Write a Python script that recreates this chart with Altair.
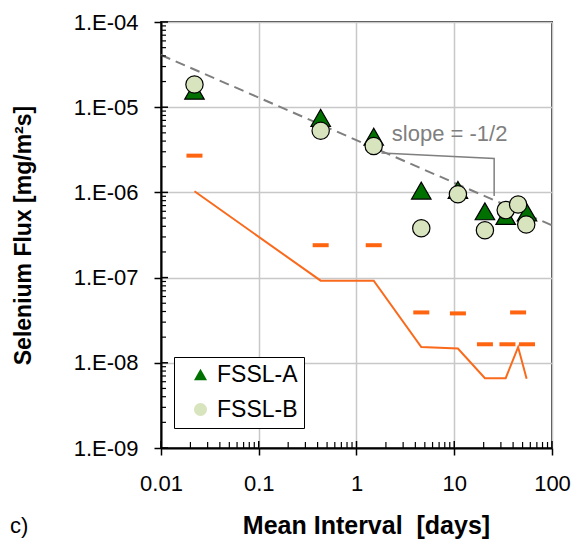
import altair as alt
import pandas as pd

FONT = "Liberation Sans"

# ---- data ----
series_names = ["FSSL-A", "FSSL-B"]
fssl_a_x = [0.022, 0.43, 1.5, 4.6, 10.9, 20.6, 33.6, 55.5]
fssl_a_y = [1.56e-5, 7.5e-6, 4.5e-6, 1.05e-6, 1.07e-6, 6.0e-7, 5.3e-7, 5.8e-7]
fssl_b_x = [0.022, 0.43, 1.5, 4.6, 10.9, 20.6, 33.6, 45, 54.5]
fssl_b_y = [1.85e-5, 5.3e-6, 3.5e-6, 3.8e-7, 9.5e-7, 3.6e-7, 6.2e-7, 7.2e-7, 4.2e-7]

dash_x = [0.022, 0.43, 1.5, 4.6, 10.9, 20.6, 35, 45, 55.5]
dash_y = [2.7e-6, 2.4e-7, 2.4e-7, 3.9e-8, 3.8e-8, 1.65e-8, 1.65e-8, 3.9e-8, 1.65e-8]

line_x = [0.022, 0.43, 1.5, 4.6, 10.9, 20.6, 33.6, 45, 55]
line_y = [1.03e-6, 9.2e-8, 9.2e-8, 1.53e-8, 1.47e-8, 6.6e-9, 6.6e-9, 1.53e-8, 6.5e-9]

slope_x = [0.01, 100]
slope_y = [4.1e-5, 4.1e-7]
slope_label = "slope = -1/2"
slope_label_x = [2.3]
slope_label_y = [4.8e-6]
bracket_x = [1.8, 25.6, 25.6]
bracket_y = [2.9e-6, 2.5e-6, 9.1e-7]

x_major = [0.01, 0.1, 1, 10, 100]
y_major = [1e-9, 1e-8, 1e-7, 1e-6, 1e-5, 1e-4]
minor_mult = [2, 3, 4, 5, 6, 7, 8, 9]
x_minor = [m * d for d in x_major[:-1] for m in minor_mult]
y_minor = [m * d for d in y_major[:-1] for m in minor_mult]

W, H = 391, 426
X_TITLE = "Mean Interval\u00a0\u00a0[days]"
Y_TITLE = "Selenium Flux [mg/m\u00b2s]"

pts_a = pd.DataFrame({"x": fssl_a_x, "y": fssl_a_y, "series": series_names[0]})
pts_b = pd.DataFrame({"x": fssl_b_x, "y": fssl_b_y, "series": series_names[1]})
dashes = pd.DataFrame({"x": dash_x, "y": dash_y})
orange = pd.DataFrame({"x": line_x, "y": line_y, "o": range(len(line_x))})
slope = pd.DataFrame({"x": slope_x, "y": slope_y})
bracket = pd.DataFrame({"x": bracket_x, "y": bracket_y, "o": range(len(bracket_x))})
label = pd.DataFrame({"x": slope_label_x, "y": slope_label_y, "t": [slope_label]})

xs = alt.Scale(type="log", domain=[0.01, 100])
ys = alt.Scale(type="log", domain=[1e-9, 1e-4])

x_axis = alt.Axis(
    values=x_major, format="~g", labelFont=FONT, labelFontSize=22, labelColor="black",
    labelPadding=18, labelFlush=False, labelOverlap=False,
    tickSize=7, tickColor="black", tickWidth=1.5,
    domainColor="black", domainWidth=2,
    grid=True, gridColor="#c8c8c8", gridWidth=1.5,
    titleFont=FONT, titleFontSize=25,
    titleFontWeight="bold", titleColor="black", titleX=205, titleY=85,
    titleBaseline="alphabetic",
)
y_axis = alt.Axis(
    values=y_major, labelExpr="'1.E-0' + format(-log(datum.value) / LN10, '.0f')",
    labelFont=FONT, labelFontSize=22, labelColor="black", labelPadding=16,
    labelOverlap=False,
    tickSize=7, tickColor="black", tickWidth=1.5,
    domainColor="black", domainWidth=2,
    grid=True, gridColor="#c8c8c8", gridWidth=1.5,
    titleFont=FONT, titleFontSize=23,
    titleFontWeight="bold", titleColor="black", titleX=-126, titleY=H / 2,
    titleAngle=-90,
)


def X(field):
    return alt.X(field, scale=xs, title=X_TITLE)


def Y(field):
    return alt.Y(field, scale=ys, title=Y_TITLE)


# base layer carries the axes
slope_layer = alt.Chart(slope).mark_line(
    color="#7f7f7f", strokeWidth=2, strokeDash=[10, 6]
).encode(
    x=alt.X("x:Q", scale=xs, axis=x_axis, title=X_TITLE),
    y=alt.Y("y:Q", scale=ys, axis=y_axis, title=Y_TITLE),
)

orange_line = alt.Chart(orange).mark_line(color="#fa6a1c", strokeWidth=2).encode(
    x=X("x:Q"), y=Y("y:Q"), order="o:Q"
)

dash_layer = alt.Chart(dashes).mark_tick(
    orient="horizontal", color="#ff6410", size=16, thickness=4, opacity=1
).encode(x=X("x:Q"), y=Y("y:Q"))

bracket_layer = alt.Chart(bracket).mark_line(color="#7f7f7f", strokeWidth=1.5).encode(
    x=X("x:Q"), y=Y("y:Q"), order="o:Q"
)

label_layer = alt.Chart(label).mark_text(
    align="left", baseline="middle", font=FONT, fontSize=22, color="#7f7f7f"
).encode(x=X("x:Q"), y=Y("y:Q"), text="t:N")

legend = alt.Legend(
    orient="none", legendX=13, legendY=335, title=None,
    labelFont=FONT, labelFontSize=23, labelColor="black",
    labelExpr="datum.label + '\u00a0\u00a0'",
    symbolSize=170, symbolStrokeColor="black", symbolStrokeWidth=1.2,
    strokeColor="black", fillColor="white", padding=6, rowPadding=11,
    symbolOffset=9, labelOffset=5,
)

shape_enc = alt.Shape("series:N", scale=alt.Scale(domain=series_names, range=["triangle-up", "circle"]), legend=legend)
fill_enc = alt.Fill("series:N", scale=alt.Scale(domain=series_names, range=["#007000", "#d7e4bd"]), legend=legend)

points_a = alt.Chart(pts_a).mark_point(
    filled=True, stroke="black", strokeWidth=1.2, opacity=1, size=380
).encode(x=X("x:Q"), y=Y("y:Q"), shape=shape_enc, fill=fill_enc)
points_b = alt.Chart(pts_b).mark_point(
    filled=True, stroke="black", strokeWidth=1.2, opacity=1, size=300
).encode(x=X("x:Q"), y=Y("y:Q"), shape=shape_enc, fill=fill_enc)

xmaj = pd.DataFrame({"v": x_major})
xmin = pd.DataFrame({"v": x_minor})
ymaj = pd.DataFrame({"v": y_major})
ymin = pd.DataFrame({"v": y_minor})

x_major_in = alt.Chart(xmaj).mark_rule(color="black", strokeWidth=1.5).encode(
    x=X("v:Q"), y=alt.value(H), y2=alt.value(H - 7))
x_minor_in = alt.Chart(xmin).mark_rule(color="black", strokeWidth=1.2).encode(
    x=X("v:Q"), y=alt.value(H), y2=alt.value(H - 6))
y_major_in = alt.Chart(ymaj).mark_rule(color="black", strokeWidth=1.5).encode(
    y=Y("v:Q"), x=alt.value(0), x2=alt.value(7))
y_minor_in = alt.Chart(ymin).mark_rule(color="black", strokeWidth=1.2).encode(
    y=Y("v:Q"), x=alt.value(0), x2=alt.value(5))

panel_tag = alt.Chart(pd.DataFrame({"t": ["c)"]})).mark_text(
    align="left", baseline="alphabetic", font=FONT, fontSize=22, color="black"
).encode(x=alt.value(-151), y=alt.value(511), text="t:N")

chart = alt.layer(
    slope_layer, orange_line, dash_layer, bracket_layer, label_layer,
    x_major_in, x_minor_in, y_major_in, y_minor_in, points_a, points_b, panel_tag,
).properties(
    width=W, height=H,
    autosize=alt.AutoSizeParams(type="none"),
    padding={"left": 153, "top": 14, "right": 19, "bottom": 92},
).configure_view(stroke="#404040", strokeWidth=2)

chart.save("out.html", embed_options={"renderer": "svg", "actions": False})
